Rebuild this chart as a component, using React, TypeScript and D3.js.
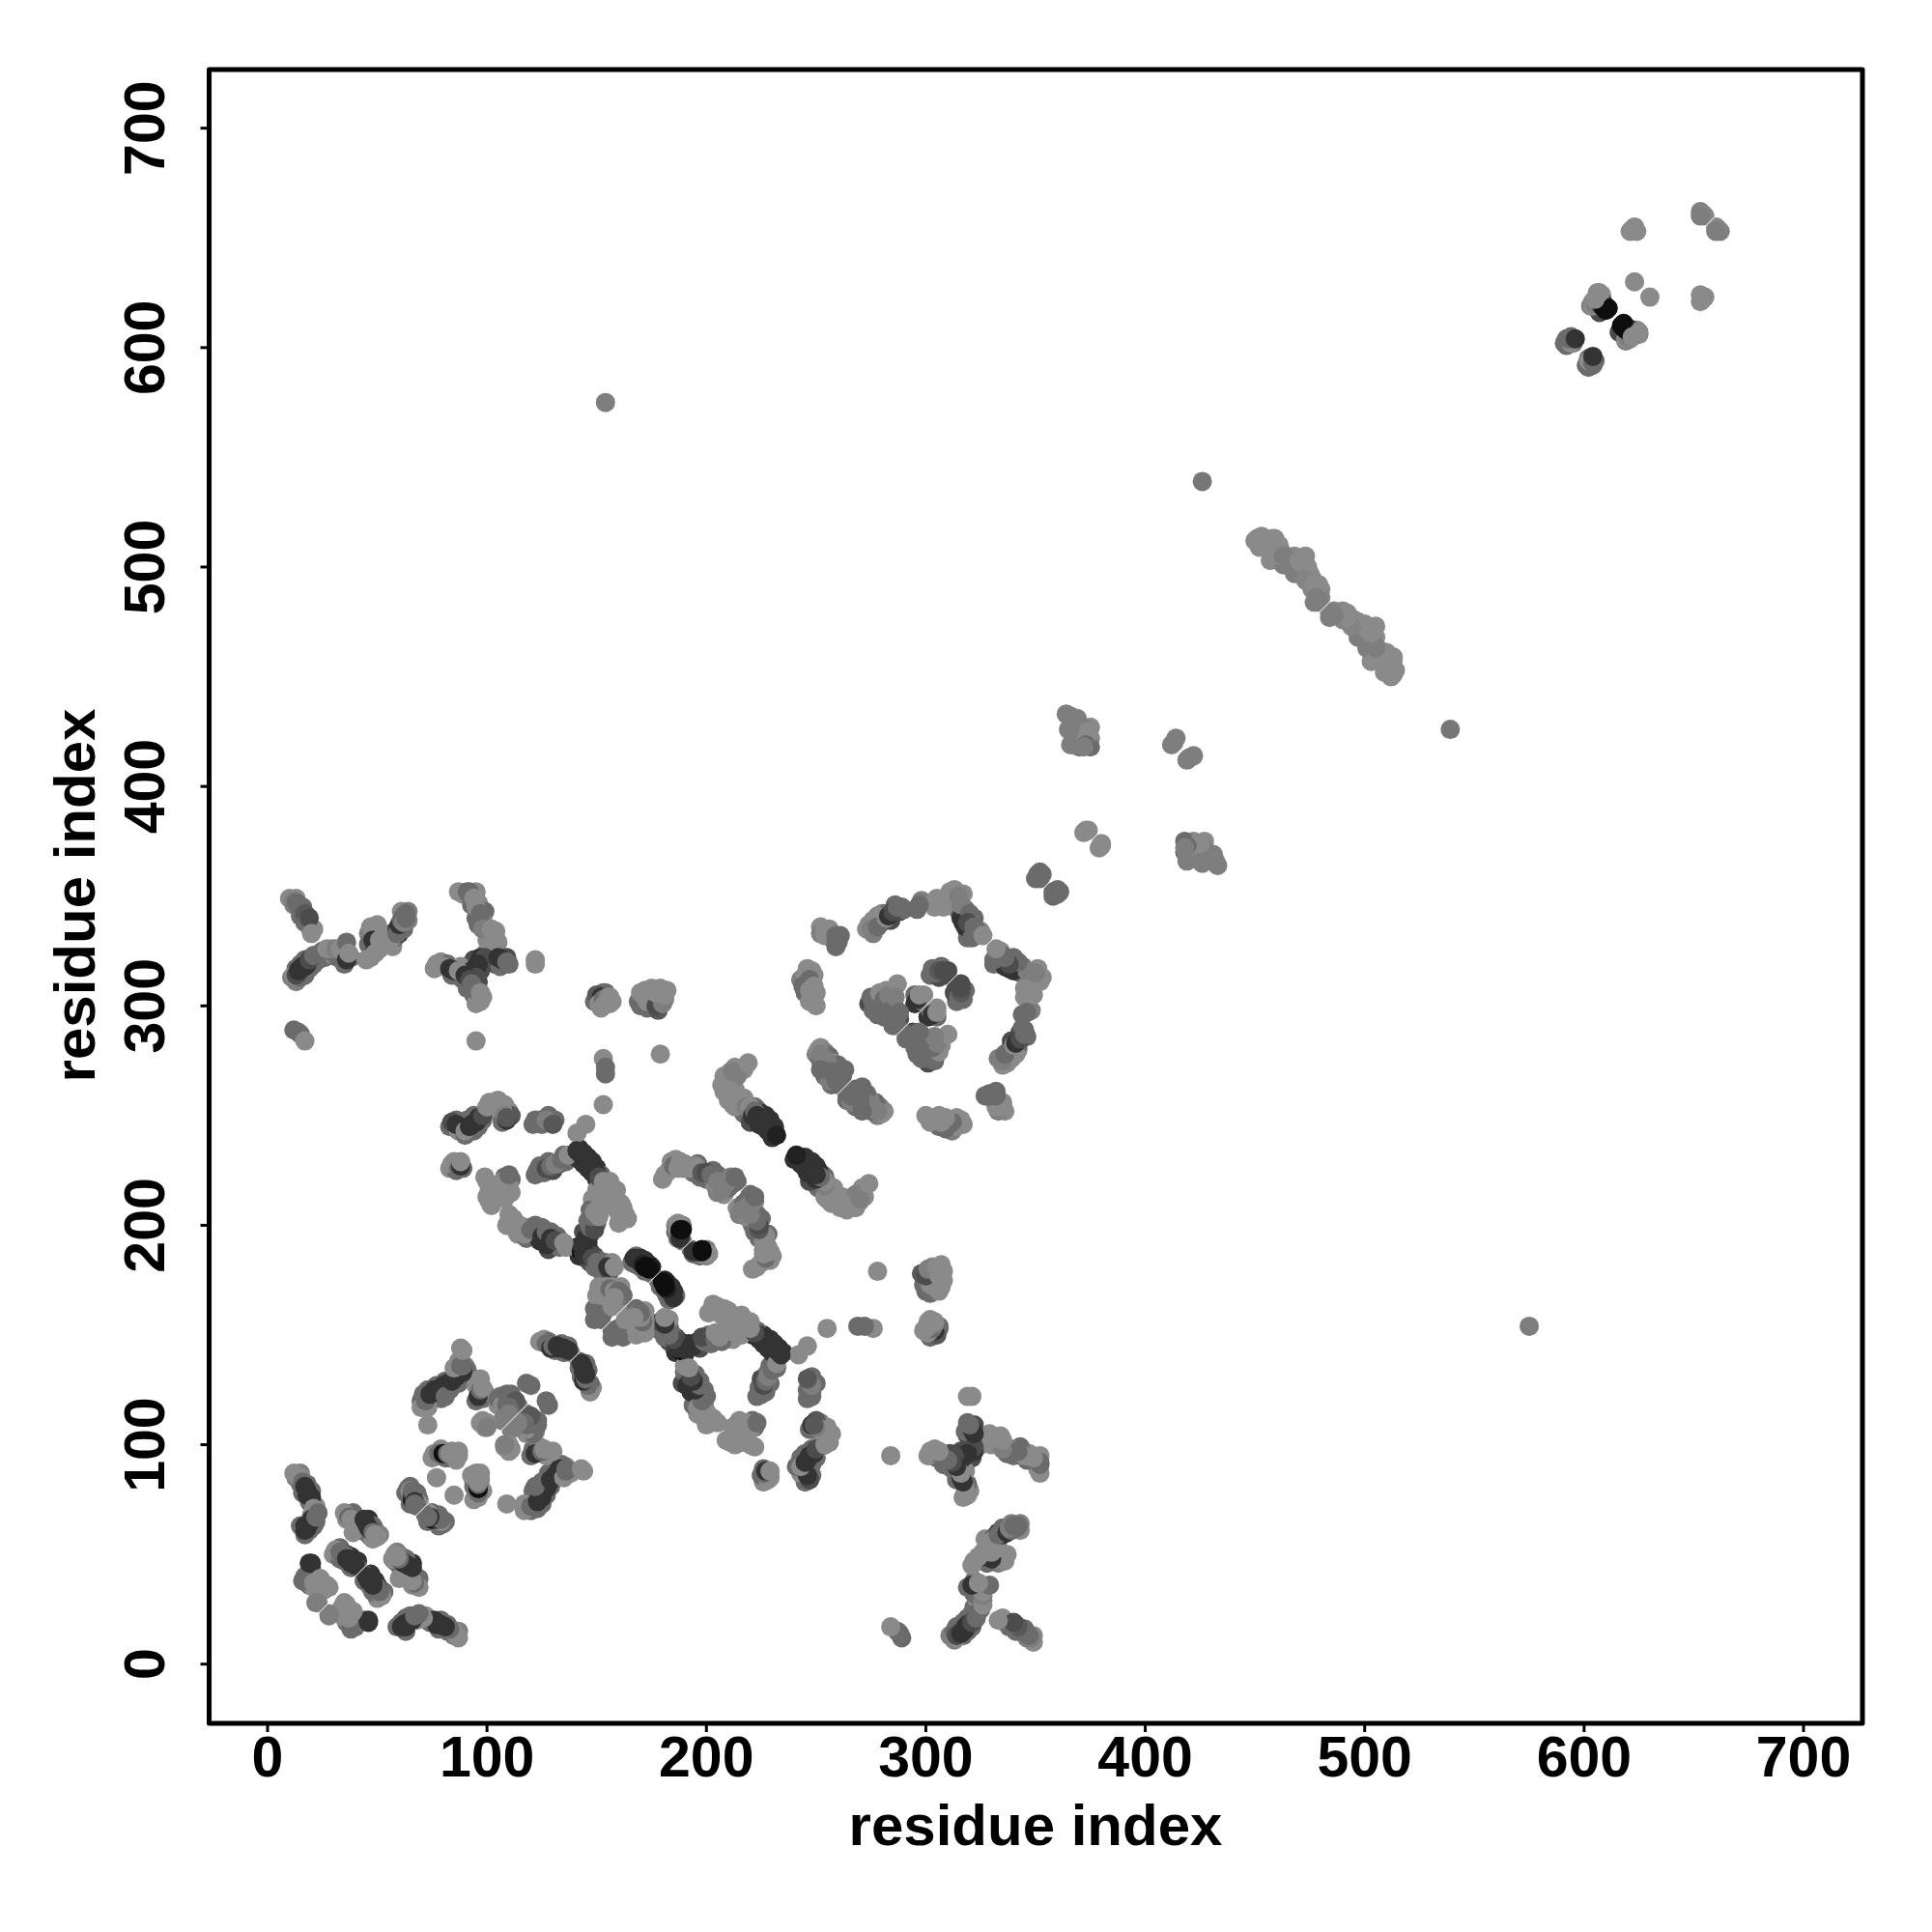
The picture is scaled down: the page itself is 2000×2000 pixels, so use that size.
import React from "react";
import * as d3 from "d3";

type C = [number, number, number];
const xTicks = [0, 100, 200, 300, 400, 500, 600, 700];
const yTicks = [0, 100, 200, 300, 400, 500, 600, 700];
const axisTitle = "residue index";

// flanking contacts, drawn first
const rimA: C[] = [[13,85,.25],[15,87,.1],[15,82,.25],[18,82,.25],[16,78,.25],[20,79,.25],[19,74,.25],[22,72,0],[15,63,.25],[17,59,.25],[19,61,.25],[21,63,.25],[20,68,0],[22,65,.25]];
const rimB: C[] = [[36,66,0],[39,69,.25],[40,65,0],[42,63,.25],[43,61,0],[46,66,.7],[48,63,.25],[45,60,.25],[47,58,.25],[49,61,.25],[51,59,.1],[48,57,0]];
const rimB2: C[] = [[30,50,0],[33,53,.25],[33,48,.25],[36,50,.7],[35,47,.25],[38,49,.7],[38,44,.25],[41,47,.7],[41,44,.25]];
const rimC: C[] = [[16,38,.25],[19,36,.25],[21,35,0],[22,39,0],[25,37,0],[26,34,0],[20,44,.25]];
const rimE: C[] = [[70,120,.25],[70,117,0],[71,123,.25],[73,125,.25],[75,121,.25],[77,127,.25],[79,121,.25],[81,129,.25],[83,125,.25],[85,131,.25],[87,128,.25],[87,133,.25],[90,132,.25],[90,136,0],[91,134,.25],[87,138,0],[95,120,.25],[95,127,0],[98,121,.25],[99,124,0]];
const rimF: C[] = [[105,118,0],[106,122,.1],[108,120,0],[111,123,.25],[105,121,.25],[112,121,.25],[114,118,.25],[111,116,.25],[112,114,.25],[107,111,.1],[98,111,0],[100,110,0],[118,128,.25]];
const rimG: C[] = [[75,94,0],[79,98,0],[81,94,.25],[84,97,0],[83,94,.25],[86,93,0],[87,97,0]];
const rimH: C[] = [[63,78,.25],[65,81,.25],[65,76,.25],[68,78,.25],[65,73,.25],[69,75,.25],[69,73,0]];
const rimI: C[] = [[126,148,0],[128,147,.25],[131,143,.25],[134,146,.25],[135,142,.25],[137,145,.25],[138,142,.25]];
const rimJ: C[] = [[10,349,0],[13,349,0],[12,346,.1],[16,345,.25],[15,341,.25],[18,341,.25],[17,338,.25],[19,336,.1],[21,335,0]];
const rimK: C[] = [[11,313,.1],[13,311,.1],[15,313,.25],[17,314,.25],[13,317,.25],[15,319,.25],[19,317,.25],[21,319,.25],[17,321,.25],[23,321,.25],[26,322,.25],[30,323,0],[32,322,.25],[35,319,.25],[38,322,.25],[35,327,.25]];
const rimL: C[] = [[46,333,.1],[50,337,0],[46,328,.25],[49,326,.7],[51,332,0],[54,331,0],[57,327,0],[58,331,.25],[60,333,.7],[62,335,.25],[64,339,.1],[61,343,0],[62,341,.25],[64,343,.1],[45,321,0]];
const rimN: C[] = [[89,351,0],[93,350,.25],[95,352,0],[96,347,0],[93,346,.25],[99,343,.25],[95,340,.25],[98,339,.1],[100,334,0],[100,330,0],[104,334,0],[105,329,0],[100,325,0],[101,323,.5],[94,321,.5],[91,318,.5],[93,312,.25],[90,313,.5],[97,316,.5],[96,311,.5],[104,319,.5],[106,318,.25],[109,322,.5],[110,319,.25]];
const rimO: C[] = [[76,317,0],[79,320,0],[82,319,.25],[84,314,.25],[86,314,.25],[88,318,0],[89,312,.25],[91,308,.25],[94,305,.25],[96,304,0],[95,301,0],[98,304,0]];
const rimP: C[] = [[149,302,.25],[152,299,0],[154,306,.25],[157,302,0],[153,306,.25]];
const rimQ: C[] = [[169,302,.25],[170,306,0],[174,305,0],[173,299,.25],[176,303,.1],[175,308,0],[178,298,.4],[182,307,0],[181,303,0]];
const rimS: C[] = [[83,245,.25],[86,248,.25],[87,243,0],[89,245,.25],[90,241,.25],[91,248,.25],[94,243,.25],[94,250,.25],[96,245,.25],[98,248,.25],[99,252,0],[102,252,0],[101,256,0],[105,257,0],[108,255,0],[110,252,0],[111,250,.4],[107,247,.25]];
const rimT: C[] = [[121,246,.25],[125,246,.25],[128,250,.25],[131,248,.25]];
const rimU: C[] = [[83,226,0],[85,229,0],[86,225,.25],[89,226,.25]];
const rimV: C[] = [[100,220,0],[100,213,0],[102,209,0],[103,213,0],[106,217,0],[106,215,0],[108,222,.25],[111,221,.25],[108,212,0],[111,215,0]];
const rimW: C[] = [[122,223,.25],[124,227,.25],[126,224,.25],[128,229,.25],[130,225,.5],[133,228,.25],[135,232,.25],[136,229,.25]];
const rimX: C[] = [[140,232,.7],[142,235,.7],[142,230,.7],[144,233,.7],[144,228,.7],[146,231,.7],[146,226,.7],[148,229,.7],[148,224,.7],[150,226,.7],[150,221,.7],[152,223,.25],[154,216,.25],[156,220,0],[158,212,0],[159,216,0],[161,210,0],[150,216,0],[148,212,0],[154,210,0],[162,208,0],[164,203,0],[160,201,0],[150,208,.25]];
const rimX2: C[] = [[141,190,.7],[142,186,.7],[144,190,1],[146,192,.7],[144,197,.5],[147,196,.7],[146,202,.25],[150,201,.25],[147,207,.25],[145,185,.7],[147,188,.7],[147,183,.5],[149,186,.5],[149,181,.25],[151,184,.25],[152,179,.25],[154,183,.25],[156,179,.5],[157,183,0]];
const rimY: C[] = [[109,200,0],[110,205,0],[112,203,0],[114,196,0],[115,200,0],[118,199,0],[118,194,.25],[121,195,.25],[122,200,.25],[124,193,.7],[125,199,.25],[126,193,.7],[128,189,.5],[129,197,.25],[130,191,.5],[132,195,.25],[133,190,.25],[136,190,0]];
const rimZ: C[] = [[186,197,.25],[186,200,.1],[187,197,0],[189,193,.25],[189,200,.1]];
const rimAA: C[] = [[166,183,.25],[168,186,.25],[168,182,.25],[170,185,.7],[170,181,.25],[172,184,.7],[172,179,.25],[174,182,.7],[175,178,.25],[175,181,.85]];
const rimAL: C[] = [[149,157,.25],[149,162,.25],[152,157,.25],[150,168,0],[151,172,0],[153,166,0],[154,172,0],[157,172,0],[156,165,0],[157,168,.25],[161,172,0],[160,164,0],[162,168,.25],[153,160,.25]];
const rimAC: C[] = [[208,268,0],[207,264,0],[208,261,0],[210,257,0],[210,268,0],[212,264,0],[213,262,0],[213,258,0],[212,255,0],[217,258,0],[215,254,.25],[219,251,.25],[218,256,0],[217,251,.25],[220,247,.5],[222,254,.25],[224,246,.7],[223,253,.25],[225,251,.7],[226,245,.7],[227,250,.7],[228,243,.7],[229,248,.7],[230,240,.7],[231,245,.7],[217,271,0],[214,268,.1],[213,272,0]];
const rimAD: C[] = [[180,221,0],[183,225,.1],[184,229,0],[186,230,0],[189,226,.1],[190,228,0],[194,224,.25],[196,228,.25],[197,222,.25],[200,221,.25],[203,225,.25],[204,218,0],[205,223,.25],[207,220,.25],[208,214,0],[210,217,.25],[212,219,.25],[214,220,.25],[205,215,.1]];
const rimRing: C[] = [[252,336,0],[256,335,0],[257,331,.25],[260,329,.25],[261,332,.25],[252,333,.1],[273,335,0],[276,339,0],[276,333,.1],[280,338,0],[280,342,0],[282,342,.25],[284,339,.5],[286,346,.25],[288,343,.5],[290,344,.25],[296,344,.25],[298,348,.1],[304,345,0],[305,349,0],[310,347,0],[311,352,0],[314,351,0],[314,347,.1],[317,351,0],[318,344,.25],[315,343,.25],[316,340,.7],[319,334,.7],[320,339,.5],[322,340,.25],[323,333,.25],[319,331,.25],[325,334,0]];
const rimSide: C[] = [[243,312,.1],[246,317,0],[249,314,0],[245,306,.25],[248,304,0],[250,306,0],[247,302,0],[250,300,0]];
const rimInner: C[] = [[274,301,.5],[275,304,.25],[277,301,.25],[276,298,.25],[279,302,.5],[280,298,.25],[278,296,.25],[281,295,.25],[282,307,0],[283,302,.25],[285,307,0],[285,301,.25],[286,299,.5],[288,294,.5],[286,293,.25],[287,291,.25],[295,305,.25],[295,301,.7],[298,302,.25],[299,305,0],[302,314,.25],[303,317,.25],[306,313,.5],[307,318,.25],[309,314,.5],[310,316,.5]];
const rimHelix: C[] = [[250,278,.1],[252,281,0],[252,275,.25],[254,279,.1],[253,273,.25],[256,277,.25],[255,270,.25],[258,274,0],[254,268,.25],[258,268,.25],[260,273,.25],[257,264,.25],[260,264,.25],[262,268,.25],[263,271,.25]];
const rimLinker: C[] = [[350,358,.25],[352,361,.25],[366,432,.1],[369,431,.1],[365,426,.1],[368,426,.1],[370,423,.1],[366,419,.1],[370,419,.25],[375,427,0],[375,422,0],[375,418,.25],[370,418,.25],[374,380,0],[372,379,0]];
const rimLong: C[] = [[450,512,0],[453,514,0],[452,509,0],[456,511,0],[457,510,0],[459,513,0],[460,506,0],[457,503,0],[462,507,.1],[463,501,.1],[466,502,.1],[468,505,0],[468,497,.1],[471,499,.1],[473,505,0],[475,497,0],[476,495,0],[476,490,.05],[480,490,0],[477,484,.1],[480,486,.05]];
const rimC2: C[] = [[604,621,0],[606,625,0],[608,624,0],[603,619,.1],[606,618,.7],[609,620,.7],[607,616,.5],[591,602,.25],[594,605,.25],[592,604,.25],[595,602,.25],[621,653,0],[623,655,0],[653,662,.1],[655,660,0]];

const strandA: C[] = [[12,87,0],[13,86,0],[15,85,0],[16,83,.25],[17,81,.7],[18,79,.7],[18,77,.7],[20,76,.7],[21,71,0],[17,63,.7],[18,62,.7],[19,64,.7],[17,61,.7],[20,66,.7],[22,67,.25],[23,69,.25]];
const strandB: C[] = [[35,69,0],[37,67,.25],[38,66,0],[40,62,0],[39,60,0],[44,66,.7],[45,64,.7],[46,62,.7],[47,61,.7],[48,60,.25],[49,59,0],[50,58,0]];
const strandB2: C[] = [[31,52,0],[33,51,.25],[35,50,.25],[36,48,.7],[37,48,.7],[39,47,.7],[40,45,.7],[38,46,.7]];
const strandC: C[] = [[17,40,.25],[18,38,.25],[20,39,.25],[19,46,.7],[20,46,.7],[21,37,0],[22,36,0],[24,39,0],[24,36,0],[28,35,0],[27,36,0],[22,28,.1],[23,28,.1]];
const strandE: C[] = [[73,109,0],[72,118,0],[73,117,0],[72,120,.25],[74,123,.7],[76,125,.7],[78,124,.7],[80,127,.7],[82,128,.7],[81,122,.25],[84,129,.7],[86,131,.7],[89,133,.7],[85,135,0],[88,136,.25],[89,136,.25],[88,144,0],[89,143,0],[96,122,.7],[97,125,.25],[98,126,0],[97,130,0]];
const strandF: C[] = [[97,110,0],[99,108,0],[100,108,.1],[107,121,.25],[107,118,0],[108,116,0],[109,123,.25],[109,118,.25],[110,121,.25],[112,119,.25],[113,120,.4],[108,113,.1],[110,117,.25],[110,114,.1],[120,127,.25]];
const strandG: C[] = [[76,96,0],[78,96,.25],[80,96,1],[82,96,.25],[83,96,0],[85,96,0],[87,95,0],[77,85,0]];
const strandH: C[] = [[64,80,.25],[65,79,0],[66,75,1],[66,77,.7],[66,79,.25],[67,74,.7],[67,73,.25],[68,72,.25]];
const strandI: C[] = [[124,147,0],[127,146,.25],[129,144,.7],[130,145,.25],[132,145,.7],[133,144,.7],[135,144,.7],[137,143,.7]];
const groupJ: C[] = [[12,348,.1],[13,347,.25],[14,346,.25],[15,344,.25],[16,343,.25],[17,342,.4],[18,338,.25],[19,340,.5],[20,333,0]];
const groupK: C[] = [[12,314,0],[13,314,.5],[14,315,.5],[14,316,.7],[15,317,.7],[16,318,.7],[17,318,.7],[18,319,.7],[19,321,.5],[20,322,.5],[21,323,.25],[24,324,.25],[25,325,.25],[27,326,0],[29,326,0],[31,326,.1],[33,326,0],[36,329,.25],[36,321,.7],[37,324,0]];
const groupL: C[] = [[47,336,0],[49,335,0],[48,330,.7],[47,322,0],[49,324,0],[51,326,0],[51,330,0],[53,333,0],[56,330,0],[59,335,.7],[59,333,.25],[60,337,.7],[61,339,.25],[62,338,.1],[63,340,.25],[63,342,.25]];
const groupM: C[] = [[12,289,.25],[14,288,.25],[15,287,.25],[17,284,0]];
const groupN: C[] = [[87,352,0],[91,352,.25],[92,352,.25],[94,349,0],[95,345,0],[97,342,.25],[96,337,.25],[98,335,.1],[102,335,0],[103,331,0],[103,328,0],[102,326,0],[97,322,.7],[99,322,.5],[96,319,.7],[95,318,.7],[93,316,.7],[92,314,.7],[95,313,.5],[105,322,.7],[107,321,.7],[109,320,.25]];
const groupO: C[] = [[77,319,0],[80,318,0],[83,317,.7],[85,316,.7],[87,316,0],[90,314,.7],[92,312,.5],[93,310,.25],[95,307,.25],[97,306,0],[97,302,0]];
const isolated: C[] = [[122,321,0],[122,319,0],[95,284,0],[153,255,0],[179,278,0],[145,246,0],[141,242,0],[426,539,.15],[154,575,.1]];
const groupP: C[] = [[150,305,.4],[152,304,.7],[151,301,0],[153,303,.25],[155,304,.1],[153,300,0],[156,301,0],[156,304,0]];
const groupQ: C[] = [[170,300,.25],[171,305,0],[173,302,0],[177,300,.5],[180,301,.1],[177,306,0],[179,308,0],[181,305,0],[172,307,0]];
const groupR: C[] = [[153,276,0],[154,272,.25],[154,269,.25]];
const groupS: C[] = [[84,247,.5],[86,246,.7],[90,243,0],[92,245,.7],[93,246,.7],[95,247,.7],[96,249,.7],[98,250,.5],[100,254,0],[103,255,0],[105,254,0],[107,253,0],[108,250,.1],[109,248,.7],[109,249,.4]];
const groupT: C[] = [[122,248,.25],[124,248,.25],[127,248,.1],[130,246,.4]];
const groupU: C[] = [[84,228,0],[87,226,.25],[88,227,.7],[88,229,0]];
const groupV: C[] = [[99,222,0],[101,216,0],[101,211,0],[104,218,0],[107,220,0],[109,215,0],[110,218,0],[110,223,.25]];
const groupW: C[] = [[123,225,.25],[125,225,.25],[127,226,.5],[129,227,.25],[131,228,.1],[134,230,.25],[137,232,0]];
const groupX: C[] = [[141,234,.7],[143,232,.7],[145,230,.7],[146,228,.7],[148,226,.7],[150,224,.7],[151,222,.5],[153,220,0],[155,218,0],[157,215,0],[151,213,0],[152,209,0],[163,205,0],[161,203,0],[159,207,0]];
const groupX2: C[] = [[143,188,1],[143,191,.7],[145,194,.7],[147,199,.25],[149,198,.5],[148,204,.25],[149,206,0],[151,204,0],[144,187,.7],[146,186,.7],[148,185,.5],[150,183,.25],[152,182,.25],[155,181,.7],[158,181,0]];
const groupY: C[] = [[111,203,0],[112,200,0],[113,198,0],[117,196,0],[120,198,.25],[123,198,.25],[125,195,.7],[127,191,.7],[127,197,.25],[129,194,.7],[131,193,.5],[135,192,0]];
const groupZ: C[] = [[187,201,0],[187,194,.25],[188,194,.7],[188,197,.7],[188,198,1],[189,198,1]];
const groupAA: C[] = [[167,185,.7],[169,184,.7],[170,183,.7],[171,182,.85],[172,181,1],[173,181,1],[174,180,1]];
const groupAL: C[] = [[150,159,.25],[150,160,.25],[151,170,0],[152,168,0],[153,171,0],[155,169,0],[156,171,.25],[158,170,0],[159,167,.1],[159,168,.25],[160,170,.25],[158,167,0],[157,163,0]];
const groupAC: C[] = [[209,266,0],[210,262,0],[211,270,0],[212,270,.1],[219,274,0],[211,260,0],[213,254,0],[215,258,0],[216,256,0],[218,254,.1],[220,254,0],[221,250,.7],[222,252,.25],[223,250,.7],[224,249,.7],[225,248,.7],[226,248,.7],[228,246,.7],[229,245,.7],[230,243,.7],[231,243,.7],[232,241,.85]];
const groupAD: C[] = [[181,223,0],[185,227,.25],[188,229,0],[187,226,0],[192,226,0],[195,227,0],[198,224,.4],[200,224,.5],[202,223,.25],[206,217,0],[207,216,.1],[205,220,.1],[209,219,.1],[211,222,.1],[213,222,.25]];
const ringOuter: C[] = [[254,335,0],[254,332,0],[259,332,.25],[259,329,.25],[259,327,.25],[274,337,0],[275,335,.1],[278,341,0],[278,336,.25],[282,340,0],[283,341,.7],[285,343,.5],[287,345,.25],[289,345,.25],[297,346,.25],[306,347,0],[308,345,0],[313,353,0],[312,348,0],[315,350,.1],[316,346,.1],[317,338,.7],[318,336,.7],[320,342,.25],[319,338,.5],[322,336,.25],[321,331,.25],[323,335,.25],[326,332,0]];
const ringSide: C[] = [[245,314,0],[248,316,0],[244,309,.25],[247,312,.25],[247,307,0],[249,309,0],[249,302,0]];
const ringInner: C[] = [[276,302,.25],[277,304,.25],[278,299,.25],[279,306,0],[281,300,.25],[281,303,.25],[283,305,.1],[284,298,.25],[287,310,0],[286,304,.1],[287,296,.25],[284,294,.25],[285,291,.25],[288,297,.25],[296,303,.7],[297,305,0],[304,315,.25],[306,316,.4],[308,316,.5]];
const ringHelix: C[] = [[251,280,0],[252,278,.1],[253,276,.1],[254,272,.25],[255,275,.1],[256,266,.1],[252,271,.25],[257,270,.25],[259,266,.25],[261,270,.25]];
const linker: C[] = [[351,360,.25],[353,360,.25],[352,358,.25],[373,380,0],[364,433,.1],[367,430,.1],[370,428,.1],[371,427,.1],[373,426,.1],[367,421,.1],[368,419,.1],[374,425,0],[373,421,0],[373,419,.25],[372,418,.1],[414,422,.1],[412,419,.1],[413,420,.1]];
const longStrand: C[] = [[451,513,0],[452,511,0],[455,513,0],[458,513,0],[459,509,0],[458,505,0],[461,510,0],[463,505,.1],[465,504,.1],[467,500,.1],[470,503,0],[472,501,0],[474,500,0],[473,494,.05],[477,492,0],[479,492,0],[478,486,.1],[479,484,.1]];
const cTerm: C[] = [[622,654,0],[624,653,0],[654,661,.05],[653,660,.1],[623,630,0],[604,619,0],[606,622,0],[607,623,0],[605,620,.1],[608,619,.7],[609,618,1],[610,617,1],[611,618,1],[607,625,0],[605,622,0],[593,603,.25],[592,601,.25],[594,602,0],[593,604,.25],[596,604,.7]];

const groups = [rimA, rimB, rimB2, rimC, rimE, rimF, rimG, rimH, rimI, rimJ, rimK, rimL, rimN, rimO, rimP, rimQ, rimS, rimT, rimU, rimV, rimW, rimX, rimX2, rimY, rimZ, rimAA, rimAL, rimAC, rimAD, rimRing, rimSide, rimInner, rimHelix, rimLinker, rimLong, rimC2,
  strandA, strandB, strandB2, strandC, strandE, strandF, strandG, strandH, strandI, groupJ, groupK, groupL, groupM, groupN, groupO, isolated, groupP, groupQ, groupR, groupS, groupT, groupU, groupV, groupW, groupX, groupX2, groupY, groupZ, groupAA, groupAL, groupAC, groupAD, ringOuter, ringSide, ringInner, ringHelix, linker, longStrand, cTerm];

const x = d3.scaleLinear().domain([0, 700]).range([277, 1867]);
const y = d3.scaleLinear().domain([0, 700]).range([1722.7, 132.7]);
const shade = d3.scaleLinear<string>().domain([0, 1]).range(["#8a8a8a", "#0e0e0e"]);
const font = "'Liberation Sans', Arial, sans-serif";
const L = 216.5, R = 1928, T = 72, B = 1784;

export default function App() {
  const marks = groups.flat();
  return (
    <svg width={2000} height={2000} style={{ position: "absolute", left: 0, top: 0, background: "#fff" }} fontFamily={font} fontWeight="bold">
      {marks.map(([i, j, w], k) => (
        <g key={k}>
          <circle cx={x(i)} cy={y(j)} r={10} fill={shade(w)} />
          <circle cx={x(j)} cy={y(i)} r={10} fill={shade(w)} />
        </g>
      ))}
      <line x1={x(-20)} y1={y(-20)} x2={x(750)} y2={y(750)} stroke="#fff" strokeWidth={1} />
      <rect x={L} y={T} width={R - L} height={B - T} fill="none" stroke="#000" strokeWidth={5} strokeLinejoin="round" />
      {xTicks.map((t) => (
        <g key={t}>
          <line x1={x(t)} x2={x(t)} y1={B} y2={B + 9} stroke="#000" strokeWidth={3} />
          <text x={x(t)} y={1839} fontSize={59} textAnchor="middle">{t}</text>
        </g>
      ))}
      {yTicks.map((t) => (
        <g key={t}>
          <line x1={L - 9} x2={L} y1={y(t)} y2={y(t)} stroke="#000" strokeWidth={3} />
          <text transform={`translate(170,${y(t)}) rotate(-90)`} fontSize={59} textAnchor="middle">{t}</text>
        </g>
      ))}
      <text x={1072} y={1910} fontSize={60} textAnchor="middle">{axisTitle}</text>
      <text transform="translate(98,927) rotate(-90)" fontSize={60} textAnchor="middle">{axisTitle}</text>
    </svg>
  );
}
